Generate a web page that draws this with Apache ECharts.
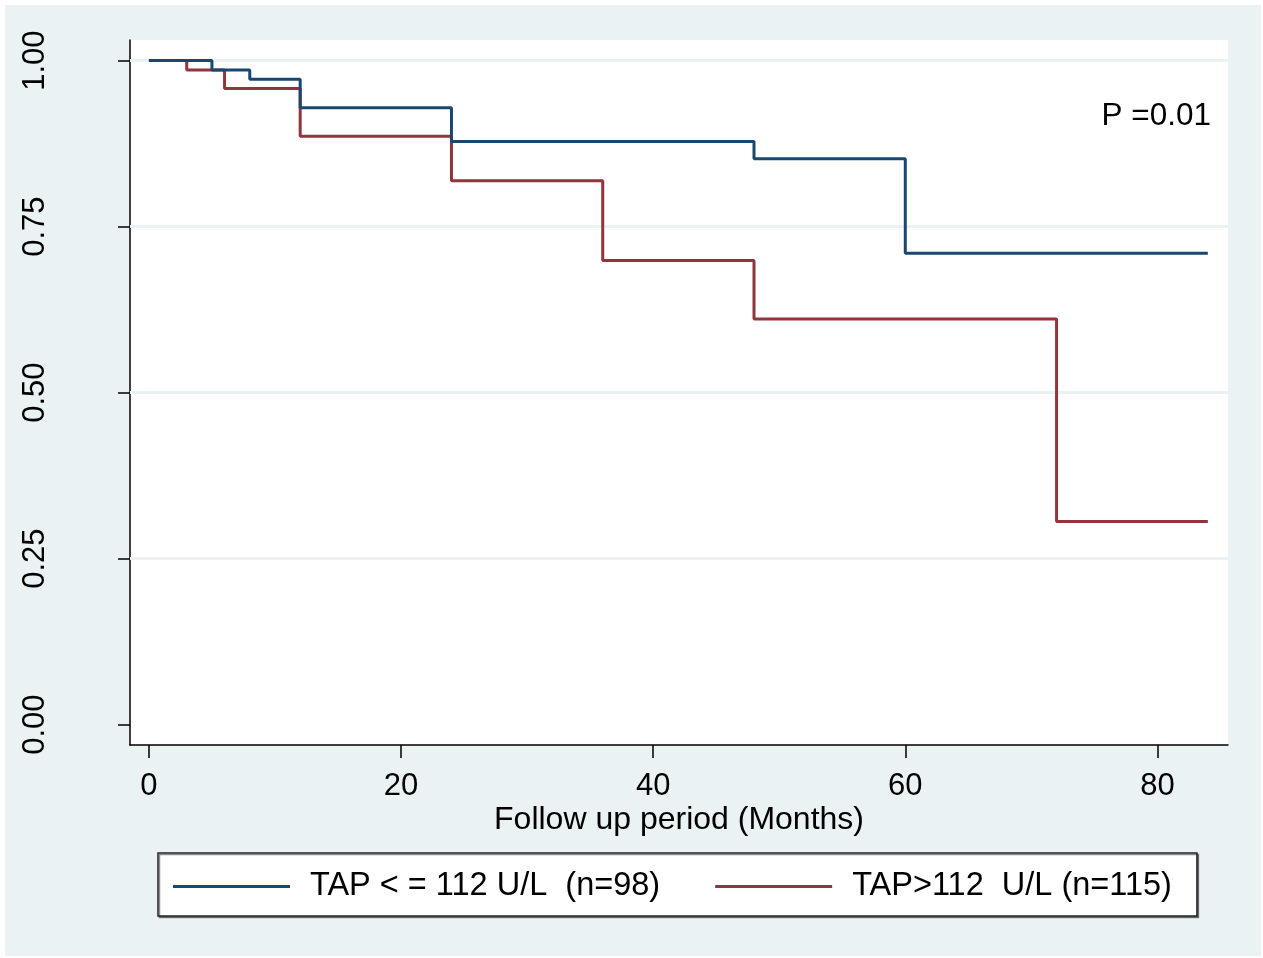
<!DOCTYPE html>
<html>
<head>
<meta charset="utf-8">
<script src="https://cdn.jsdelivr.net/npm/echarts@6/dist/echarts.min.js"></script>
<style>
html,body{margin:0;padding:0;background:#ffffff;width:1263px;height:958px;overflow:hidden;}
#chart{position:absolute;left:5px;top:5px;width:1256px;height:951px;}
</style>
</head>
<body>
<div id="chart"></div>
<script>
// ---- data ----
const blueName = 'TAP < = 112 U/L  (n=98)';
const redName = 'TAP>112  U/L (n=115)';
const blueTimes = [0, 5, 8, 12, 24, 48, 60, 84];
const blueSurv  = [1.000, 0.986, 0.972, 0.929, 0.878, 0.852, 0.710, 0.710];
const redTimes  = [0, 3, 6, 12, 24, 36, 48, 72, 84];
const redSurv   = [1.000, 0.986, 0.958, 0.886, 0.819, 0.699, 0.611, 0.306, 0.306];
const xTicks = [0, 20, 40, 60, 80];
const yTicks = [0, 0.25, 0.5, 0.75, 1];
const yGrid = [0.25, 0.5, 0.75, 1];
const xTitle = 'Follow up period (Months)';
const pText = 'P =0.01';

const FONT = '"Liberation Sans", Arial, Helvetica, sans-serif';
const pairs = (xs, ys) => xs.map((x, i) => [x, ys[i]]);

const chart = echarts.init(document.getElementById('chart'), null, {renderer: 'canvas'});
chart.setOption({
  backgroundColor: '#eaf2f3',
  animation: false,
  textStyle: {fontFamily: FONT},
  grid: {left: 125, right: 33, top: 35, bottom: 211, show: true, backgroundColor: '#ffffff', borderWidth: 0},
  xAxis: {
    type: 'value', min: -1.5, max: 85.6,
    axisLine: {show: true, onZero: false, lineStyle: {color: '#000', width: 1.5}},
    axisTick: {show: true, length: 13, customValues: xTicks, lineStyle: {color: '#000', width: 1.5}},
    axisLabel: {customValues: xTicks, color: '#000', fontSize: 31, margin: 26, fontFamily: FONT},
    splitLine: {show: false},
    name: xTitle, nameLocation: 'middle', nameGap: 59, nameMoveOverlap: false,
    nameTextStyle: {color: '#000', fontSize: 32, fontFamily: FONT}
  },
  yAxis: {
    type: 'value', min: -0.0306, max: 1.031,
    axisLine: {show: true, onZero: false, lineStyle: {color: '#000', width: 1.5}},
    axisTick: {show: true, length: 12, customValues: yTicks, lineStyle: {color: '#000', width: 1.5}},
    axisLabel: {customValues: yTicks, color: '#000', fontSize: 31, rotate: 90, margin: 79, fontFamily: FONT,
      formatter: v => v.toFixed(2)},
    splitLine: {show: false}
  },
  legend: {
    data: [blueName, redName],
    left: 153, top: 848,
    orient: 'horizontal',
    icon: 'rect', itemWidth: 117, itemHeight: 3, itemGap: 55,
    padding: [17, 25, 13, 15],
    backgroundColor: '#ffffff', borderColor: '#222', borderWidth: 1.5,
    shadowColor: 'rgba(0,0,0,0.45)', shadowOffsetX: 1.5, shadowOffsetY: 1.5, shadowBlur: 0,
    textStyle: {color: '#000', fontSize: 32.5, fontFamily: FONT, padding: [0, 0, 0, 15]}
  },
  graphic: [{
    type: 'text', right: 50, top: 95,
    style: {text: pText, fill: '#000', font: '31.5px ' + FONT}
  }],
  series: [
    {
      name: 'grid', type: 'line', data: [], z: 1, silent: true,
      markLine: {silent: true, z: 1, symbol: ['none', 'none'], label: {show: false},
        lineStyle: {color: '#eaf2f3', width: 3, type: 'solid'},
        data: yGrid.map(v => ({yAxis: v}))}
    },
    {
      name: blueName, type: 'line', step: 'end', data: pairs(blueTimes, blueSurv),
      showSymbol: false, symbol: 'none', z: 3,
      itemStyle: {color: '#1a476f'}, lineStyle: {color: '#1a476f', width: 3}
    },
    {
      name: redName, type: 'line', step: 'end', data: pairs(redTimes, redSurv),
      showSymbol: false, symbol: 'none', z: 2,
      itemStyle: {color: '#90353b'}, lineStyle: {color: '#90353b', width: 3}
    }
  ]
});
</script>
</body>
</html>
